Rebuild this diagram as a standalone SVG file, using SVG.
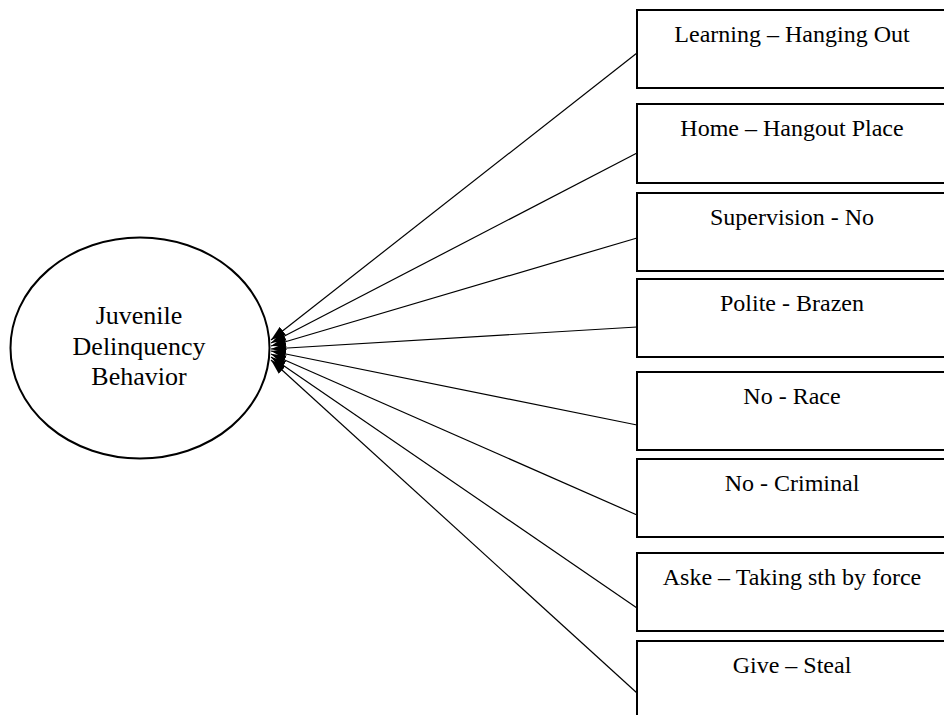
<svg xmlns="http://www.w3.org/2000/svg" width="944" height="715" viewBox="0 0 944 715">
<style>
  .box { fill: #fff; stroke: #000; stroke-width: 2; }
  .lbl { font-family: "Liberation Serif", "Times New Roman", serif; font-size: 24px; fill: #000; text-anchor: middle; }
  .big { font-family: "Liberation Serif", "Times New Roman", serif; font-size: 26px; fill: #000; text-anchor: middle; }
  .conn { stroke: #000; stroke-width: 1.2; fill: none; marker-end: url(#ah); }
</style>
<defs>
  <marker id="ah" markerUnits="userSpaceOnUse" markerWidth="16" markerHeight="10" refX="15" refY="5" orient="auto">
    <path d="M0,0 L15,5 L0,10 Z" fill="#000"/>
  </marker>
</defs>
<rect width="944" height="715" fill="#fff"/>
<g id="center">
  <ellipse cx="140" cy="348" rx="129.5" ry="110.5" fill="#fff" stroke="#000" stroke-width="2"/>
  <text class="big" x="139" y="324">Juvenile</text>
  <text class="big" x="139" y="355">Delinquency</text>
  <text class="big" x="139" y="385">Behavior</text>
</g>
<g id="connectors">
  <line class="conn" x1="637" y1="53" x2="271" y2="340"/>
  <line class="conn" x1="637" y1="153" x2="271" y2="343"/>
  <line class="conn" x1="637" y1="238" x2="271" y2="346"/>
  <line class="conn" x1="637" y1="327" x2="271" y2="349"/>
  <line class="conn" x1="637" y1="425" x2="271" y2="351"/>
  <line class="conn" x1="637" y1="515" x2="271" y2="354"/>
  <line class="conn" x1="637" y1="608" x2="271" y2="357"/>
  <line class="conn" x1="637" y1="693" x2="271" y2="360"/>
</g>
<g id="n1"><rect class="box" x="637" y="10" width="320" height="78"/><text class="lbl" x="792" y="42">Learning – Hanging Out</text></g>
<g id="n2"><rect class="box" x="637" y="104" width="320" height="79"/><text class="lbl" x="792" y="136">Home – Hangout Place</text></g>
<g id="n3"><rect class="box" x="637" y="193" width="320" height="78"/><text class="lbl" x="792" y="225">Supervision - No</text></g>
<g id="n4"><rect class="box" x="637" y="279" width="320" height="78"/><text class="lbl" x="792" y="311">Polite - Brazen</text></g>
<g id="n5"><rect class="box" x="637" y="372" width="320" height="78"/><text class="lbl" x="792" y="404">No - Race</text></g>
<g id="n6"><rect class="box" x="637" y="459" width="320" height="78"/><text class="lbl" x="792" y="491">No - Criminal</text></g>
<g id="n7"><rect class="box" x="637" y="553" width="320" height="78"/><text class="lbl" x="792" y="585">Aske – Taking sth by force</text></g>
<g id="n8"><rect class="box" x="637" y="641" width="320" height="90"/><text class="lbl" x="792" y="673">Give – Steal</text></g>
</svg>
